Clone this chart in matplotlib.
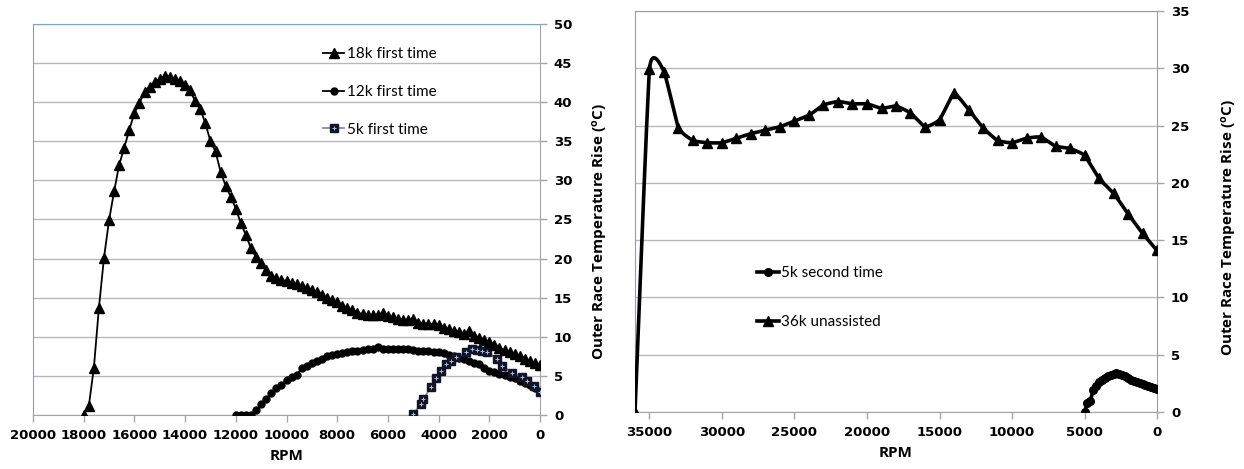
import numpy as np
import matplotlib
matplotlib.use('Agg')
import matplotlib.pyplot as plt
from matplotlib.lines import Line2D
from matplotlib.legend_handler import HandlerTuple

# ---- data ----
# left panel, 18k first time (every 200 rpm from 18000 down to 0)
rpm_18k = list(range(18000, -1, -200))
t_18k = [0, 1.1, 6.0, 13.7, 20.1, 24.9, 28.6, 32.0, 34.2, 36.5,
         38.6, 39.9, 41.3, 42.0, 42.6, 43.0, 43.3, 43.2, 43.0, 42.7,
         42.2, 41.5, 40.1, 39.1, 37.3, 35.0, 33.7, 31.1, 29.3, 27.9,
         26.4, 24.5, 23.0, 21.3, 20.2, 19.4, 18.5, 17.8, 17.5, 17.3,
         17.1, 16.9, 16.7, 16.5, 16.3, 16.0, 15.7, 15.4, 15.0, 14.7,
         14.4, 14.0, 13.7, 13.4, 13.1, 12.9, 12.8, 12.8, 12.8, 13.1,
         12.7, 12.5, 12.3, 12.2, 12.1, 12.3, 11.8, 11.7, 11.6, 11.6,
         11.5, 11.1, 11.0, 10.8, 10.6, 10.4, 10.7, 10.1, 9.9, 9.6,
         9.3, 9.0, 8.6, 8.3, 8.0, 7.8, 7.5, 7.2, 6.9, 6.7, 6.4]

# 12k first time (every 200 rpm from 12000 down to 0)
rpm_12k = list(range(12000, -1, -200))
t_12k = [0, 0.05, 0, 0, 0.6, 1.4, 2.1, 2.8, 3.4, 3.9,
         4.5, 4.8, 5.1, 6.0, 6.3, 6.6, 6.9, 7.2, 7.5, 7.7,
         7.8, 7.9, 8.1, 8.2, 8.2, 8.3, 8.4, 8.4, 8.7, 8.5,
         8.5, 8.4, 8.4, 8.4, 8.4, 8.3, 8.2, 8.2, 8.2, 8.1,
         8.0, 7.9, 7.7, 7.5, 7.3, 7.1, 6.9, 6.6, 6.5, 6.0,
         5.6, 5.5, 5.3, 5.1, 4.9, 4.7, 4.4, 4.1, 3.8, 3.5, 2.9]

# 5k first time
rpm_5k1 = [5000, 4700, 4600, 4300, 4100, 3900, 3700, 3500, 3300, 2900, 2700,
           2500, 2300, 2100, 1700, 1500, 1100, 700, 500, 250, 0]
t_5k1 = [0.1, 1.4, 2.0, 3.6, 4.7, 5.6, 6.5, 6.9, 7.4, 8.0, 8.4,
         8.3, 8.2, 8.1, 7.2, 6.3, 5.4, 4.8, 4.3, 3.7, 2.9]

# right panel, 36k unassisted (every 1000 rpm)
rpm_36k = list(range(36000, -1, -1000))
t_36k = [0, 29.9, 29.7, 24.8, 23.7, 23.5, 23.5, 23.9, 24.3, 24.6,
         24.9, 25.4, 25.9, 26.8, 27.1, 26.9, 26.9, 26.5, 26.7, 26.1,
         24.9, 25.5, 27.8, 26.4, 24.8, 23.7, 23.5, 23.9, 24.0, 23.2,
         23.0, 22.4, 20.4, 19.1, 17.3, 15.6, 14.1]

# 5k second time (every 200 rpm)
rpm_5k2 = list(range(5000, -1, -200))
t_5k2 = [0, 0.8, 1.0, 1.9, 2.3, 2.6, 2.8, 3.0, 3.1, 3.2,
         3.3, 3.4, 3.3, 3.2, 3.1, 3.0, 2.8, 2.7, 2.6, 2.5,
         2.45, 2.4, 2.3, 2.2, 2.1, 2.0]

ticks_l_x = list(range(20000, -1, -2000))
ticks_l_y = list(range(0, 51, 5))
ticks_r_x = list(range(35000, -1, -5000))
ticks_r_y = list(range(0, 36, 5))

ylabel = 'Outer Race Temperature Rise ($\\mathregular{^{o}}$C)'

plt.rcParams['font.family'] = 'DejaVu Sans'
plt.rcParams['font.weight'] = 'bold'
plt.rcParams['font.size'] = 9.5
plt.rcParams['mathtext.default'] = 'regular'


def smooth(x, y, n=12, k=0.45):
    # cardinal curve through the points, like excel's smoothed line
    x = np.asarray(x, float)
    y = np.asarray(y, float)
    px = np.concatenate([[2 * x[0] - x[1]], x, [2 * x[-1] - x[-2]]])
    py = np.concatenate([[2 * y[0] - y[1]], y, [2 * y[-1] - y[-2]]])
    t = np.linspace(0, 1, n, endpoint=False)
    h00 = 2 * t ** 3 - 3 * t ** 2 + 1
    h10 = t ** 3 - 2 * t ** 2 + t
    h01 = -2 * t ** 3 + 3 * t ** 2
    h11 = t ** 3 - t ** 2
    xs, ys = [], []
    for i in range(1, len(px) - 2):
        for p, out in ((px, xs), (py, ys)):
            m1 = k * (p[i + 1] - p[i - 1]) / 2
            m2 = k * (p[i + 2] - p[i]) / 2
            out.extend(h00 * p[i] + h10 * m1 + h01 * p[i + 1] + h11 * m2)
    xs.append(x[-1])
    ys.append(y[-1])
    return np.array(xs), np.array(ys)


blue = '#7EA2CF'
grey = '#A6A6A6'
labfont = dict(family='Open Sans', fontweight='bold', fontsize=11)
legfont = dict(family='Lato', weight='normal', size=11)

fig = plt.figure(figsize=(12.44, 4.69), dpi=100)
ax1 = fig.add_axes([33 / 1244, 1 - 415 / 469, 507 / 1244, 391 / 469])
ax2 = fig.add_axes([635 / 1244, 1 - 412 / 469, 522 / 1244, 401 / 469])


def style(ax, xt, yt):
    ax.spines['left'].set_color(blue)
    ax.spines['top'].set_color(blue)
    ax.spines['bottom'].set_color(grey)
    ax.yaxis.tick_right()
    ax.set_xticks(xt)
    ax.set_yticks(yt)
    ax.tick_params(axis='both', colors=grey, labelcolor='black',
                   length=5, width=1, pad=5)
    ax.grid(axis='y', color='#B8B8B8', lw=1)
    ax.set_axisbelow(True)
    ax.set_xlabel('RPM', labelpad=5, **labfont)


# ---- left panel ----
ax1.plot(rpm_18k, t_18k, color='black', lw=1.3, marker='^', ms=7, zorder=4)
ax1.plot(rpm_12k, t_12k, color='black', lw=1.3, marker='o', ms=5, zorder=3)
ax1.plot(rpm_5k1, t_5k1, color='#8C8C8C', lw=1.3, marker='s', ms=6,
         mfc='#141428', mec='#141428', zorder=3)
ax1.plot(rpm_5k1, t_5k1, ls='none', marker='+', ms=3.5, mew=0.7,
         color='#9CC3EE', zorder=3.5)
ax1.set_xlim(20000, 0)
ax1.set_ylim(0, 50)
ax1.spines['right'].set_color(grey)
style(ax1, ticks_l_x, ticks_l_y)

h18 = Line2D([], [], color='black', lw=1.3, marker='^', ms=7)
h12 = Line2D([], [], color='black', lw=1.3, marker='o', ms=5)
h5a = Line2D([], [], color='#8C8C8C', lw=1.3, marker='s', ms=6,
             mfc='#141428', mec='#141428')
h5b = Line2D([], [], ls='none', marker='+', ms=3.5, mew=0.7, color='#9CC3EE')
ax1.legend([h18, h12, (h5a, h5b)],
           ['18k first time', '12k first time', '5k first time'],
           handler_map={tuple: HandlerTuple(ndivide=1, pad=0)},
           loc='upper left', bbox_to_anchor=(0.572, 0.94), frameon=False,
           prop=legfont, handlelength=1.4,
           handletextpad=0.15, labelspacing=1.55, borderpad=0,
           borderaxespad=0)

# ---- right panel ----
sx, sy = smooth(rpm_36k, t_36k)
ax2.plot(sx, sy, color='black', lw=2.6, zorder=4)
ax2.plot(rpm_36k, t_36k, ls='none', marker='^', ms=7, color='black', zorder=4)
sx, sy = smooth(rpm_5k2, t_5k2)
ax2.plot(sx, sy, color='black', lw=2.6, zorder=3)
ax2.plot(rpm_5k2, t_5k2, ls='none', marker='o', ms=5.5, color='black', zorder=3)
ax2.set_xlim(36000, 0)
ax2.set_ylim(0, 35)
ax2.spines['right'].set_color(blue)
style(ax2, ticks_r_x, ticks_r_y)
ax2.yaxis.set_label_position('right')
ax2.set_ylabel(ylabel, **labfont)
ax2.yaxis.set_label_coords(1.12, 0.46)
ax2.text(-0.067, 0.45, ylabel, rotation=90, ha='center', va='center',
         transform=ax2.transAxes, **labfont)

hc = Line2D([], [], color='black', lw=2.6, marker='o', ms=5.5)
ht = Line2D([], [], color='black', lw=2.6, marker='^', ms=7)
ax2.legend([hc, ht], ['5k second time', '36k unassisted'],
           loc='upper left', bbox_to_anchor=(0.234, 0.364), frameon=False,
           prop=legfont, handlelength=1.4,
           handletextpad=0.15, labelspacing=2.3, borderpad=0,
           borderaxespad=0)

fig.savefig('out.png', dpi=100)
